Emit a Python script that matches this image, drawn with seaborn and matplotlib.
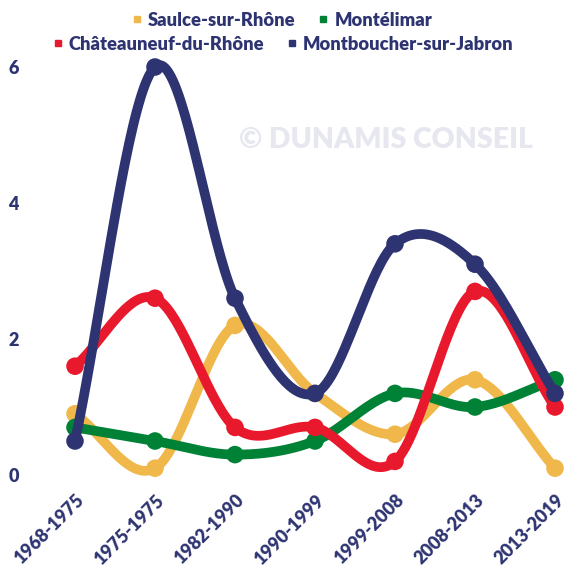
import numpy as np
import pandas as pd
import matplotlib
matplotlib.use("Agg")
import matplotlib.pyplot as plt
import seaborn as sns
from matplotlib.lines import Line2D

# Data
periods = ["1968-1975", "1975-1975", "1982-1990", "1990-1999", "1999-2008", "2008-2013", "2013-2019"]
saulce = [0.9, 0.1, 2.2, 1.2, 0.6, 1.4, 0.1]
montelimar = [0.7, 0.5, 0.3, 0.5, 1.2, 1.0, 1.4]
chateauneuf = [1.6, 2.6, 0.7, 0.7, 0.2, 2.7, 1.0]
montboucher = [0.5, 6.0, 2.6, 1.2, 3.4, 3.1, 1.2]
yticks = [0, 2, 4, 6]

series = [
    ("Saulce-sur-Rhône", saulce, "#F0B84A"),
    ("Montélimar", montelimar, "#008236"),
    ("Châteauneuf-du-Rhône", chateauneuf, "#E8192C"),
    ("Montboucher-sur-Jabron", montboucher, "#2E3471"),
]
navy = "#2E3471"

sns.set_theme(style="white")
plt.rcParams["font.family"] = ["Lato", "DejaVu Sans"]
plt.rcParams["font.weight"] = "heavy"


def catmull_rom(y, n=40):
    # smooth drawing curve through the points (cardinal spline)
    y = np.asarray(y, dtype=float)
    m = np.zeros_like(y)
    m[1:-1] = (y[2:] - y[:-2]) / 2
    m[0] = y[1] - y[0]
    m[-1] = y[-1] - y[-2]
    xs, ys = [], []
    for i in range(len(y) - 1):
        t = np.linspace(0, 1, n, endpoint=False)
        h00 = 2 * t**3 - 3 * t**2 + 1
        h10 = t**3 - 2 * t**2 + t
        h01 = -2 * t**3 + 3 * t**2
        h11 = t**3 - t**2
        xs.append(i + t)
        ys.append(h00 * y[i] + h10 * m[i] + h01 * y[i + 1] + h11 * m[i + 1])
    xs.append([len(y) - 1])
    ys.append([y[-1]])
    return np.concatenate(xs), np.concatenate(ys)


fig = plt.figure(figsize=(5.68, 5.67), dpi=100)
ax = fig.add_axes([30 / 568, 92 / 567, 532 / 568, 408 / 567])

x = np.arange(len(periods))
for z, (name, vals, col) in enumerate(series):
    sx, sy = catmull_rom(vals)
    sns.lineplot(x=sx, y=sy, ax=ax, color=col, linewidth=7, sort=False,
                 zorder=3 + 2 * z, clip_on=False)
    sns.scatterplot(x=x, y=vals, ax=ax, color=col, s=160, edgecolor="none",
                    zorder=4 + 2 * z, clip_on=False)

ax.set_xlim(-45 / 80, 6 + 7 / 80)
ax.set_ylim(0, 6)
ax.set_yticks(yticks)
ax.set_yticklabels([str(v) for v in yticks])
ax.set_xticks(x)
ax.set_xticklabels(periods, rotation=45, ha="right", rotation_mode="anchor")
ax.tick_params(axis="x", length=0, pad=12, labelsize=13, labelcolor=navy)
ax.tick_params(axis="y", length=0, pad=8, labelsize=13, labelcolor=navy)
for lab in ax.get_xticklabels() + ax.get_yticklabels():
    lab.set_fontweight("heavy")
for s in ax.spines.values():
    s.set_visible(False)
ax.grid(False)
ax.set_xlabel("")
ax.set_ylabel("")

fig.text(386 / 568, 1 - 140 / 567, "© DUNAMIS CONSEIL", color="#E6E7EF",
         fontsize=20.5, fontweight="heavy", ha="center", va="center", zorder=0)


def handle(col):
    return Line2D([], [], marker="s", color=col, linestyle="none", markersize=5)


fig.legend([handle(series[0][2]), handle(series[1][2])],
           [series[0][0], series[1][0]], ncol=2, loc="center",
           bbox_to_anchor=(281 / 568, 1 - 20 / 567), frameon=False,
           fontsize=13.2, handletextpad=0.2, columnspacing=1.1,
           handlelength=0.8, borderpad=0, borderaxespad=0)
fig.legend([handle(series[2][2]), handle(series[3][2])],
           [series[2][0], series[3][0]], ncol=2, loc="center",
           bbox_to_anchor=(282 / 568, 1 - 44 / 567), frameon=False,
           fontsize=13.2, handletextpad=0.2, columnspacing=1.1,
           handlelength=0.8, borderpad=0, borderaxespad=0)
for leg in fig.legends:
    for t in leg.get_texts():
        t.set_color(navy)
        t.set_fontweight("heavy")

fig.savefig("out.png", dpi=100)
